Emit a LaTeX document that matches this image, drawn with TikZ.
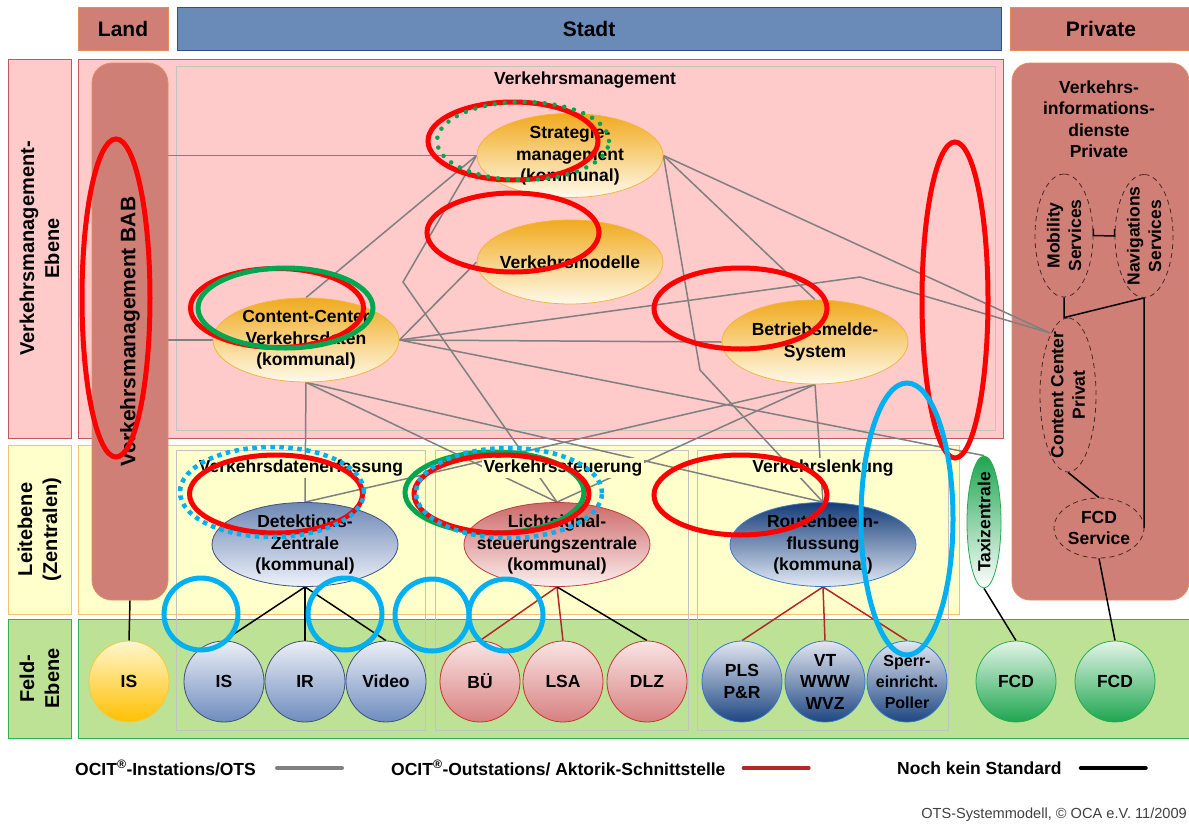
\documentclass[tikz,border=0pt]{standalone}
\usepackage{fontspec}
\setmainfont{Liberation Sans}
\usepackage{tikz}
\usetikzlibrary{shapes.geometric,arrows.meta}
\definecolor{salmon}{RGB}{208,127,118}
\definecolor{salmonedge}{RGB}{228,140,90}
\definecolor{stadtblue}{RGB}{106,138,184}
\definecolor{stadtedge}{RGB}{50,80,130}
\definecolor{pinkbg}{RGB}{255,202,202}
\definecolor{pinkedge}{RGB}{190,90,90}
\definecolor{yellowbg}{RGB}{255,255,204}
\definecolor{yellowedge}{RGB}{245,195,110}
\definecolor{greenbg}{RGB}{189,226,150}
\definecolor{greenedge}{RGB}{40,180,80}
\definecolor{boxgray}{RGB}{195,195,195}
\definecolor{otsgray}{RGB}{128,128,128}
\definecolor{aktred}{RGB}{178,40,40}
\definecolor{vmtop}{RGB}{240,170,30}
\definecolor{vmbottom}{RGB}{255,250,235}
\definecolor{vmedge}{RGB}{242,180,70}
\definecolor{dettop}{RGB}{110,135,180}
\definecolor{detbottom}{RGB}{238,242,250}
\definecolor{detedge}{RGB}{60,80,130}
\definecolor{lsztop}{RGB}{205,105,105}
\definecolor{lszbottom}{RGB}{252,238,238}
\definecolor{lszedge}{RGB}{190,60,60}
\definecolor{routetop}{RGB}{20,60,120}
\definecolor{routebottom}{RGB}{228,234,246}
\definecolor{routeedge}{RGB}{60,120,200}
\definecolor{isltop}{RGB}{255,246,205}
\definecolor{islbottom}{RGB}{255,192,0}
\definecolor{isledge}{RGB}{250,200,60}
\definecolor{fbluetop}{RGB}{236,239,246}
\definecolor{fbluebottom}{RGB}{110,140,190}
\definecolor{fblueedge}{RGB}{60,80,120}
\definecolor{fredtop}{RGB}{250,228,228}
\definecolor{fredbottom}{RGB}{215,128,128}
\definecolor{frededge}{RGB}{200,50,50}
\definecolor{fdarktop}{RGB}{226,231,241}
\definecolor{fdarkbottom}{RGB}{30,70,130}
\definecolor{fdarkedge}{RGB}{50,120,210}
\definecolor{fcdtop}{RGB}{226,245,230}
\definecolor{fcdgreen}{RGB}{30,165,80}
\definecolor{fcdedge}{RGB}{40,170,80}
\definecolor{privedge}{RGB}{70,40,40}
\definecolor{markred}{RGB}{255,0,0}
\definecolor{markgreen}{RGB}{0,166,80}
\definecolor{markblue}{RGB}{0,176,240}
\definecolor{footgray}{RGB}{64,64,64}
\newcommand{\txtnode}{\fontsize{17.5}{21.5}\selectfont\bfseries}
\newcommand{\txtsmall}{\fontsize{16}{21}\selectfont\bfseries}
\newcommand{\txthead}{\fontsize{21}{24}\selectfont\bfseries}
\newcommand{\txtrow}{\fontsize{20}{25}\selectfont\bfseries}
\newcommand{\txtfoot}{\fontsize{14.6}{17}\selectfont}
\tikzstyle{head} = [rectangle, minimum height=43pt, inner sep=0pt, font=\txthead, line width=0.8pt]
\tikzstyle{rowlabel} = [rectangle, rotate=90, minimum height=63pt, inner sep=0pt, align=center, font=\txtrow, line width=0.8pt]
\tikzstyle{innerbox} = [draw=boxgray, line width=0.8pt]
\tikzstyle{txt} = [align=center, font=\txtnode, inner sep=0pt]
\tikzstyle{vmell} = [ellipse, draw=vmedge, line width=0.8pt, top color=vmtop, bottom color=vmbottom, minimum width=186pt, minimum height=84pt]
\tikzstyle{leitell} = [ellipse, line width=0.8pt, minimum width=186pt, minimum height=84pt]
\tikzstyle{feld} = [ellipse, line width=0.8pt, minimum width=80pt, minimum height=81pt]
\tikzstyle{privell} = [ellipse, draw=privedge, line width=0.8pt, dash pattern=on 5pt off 4pt, rotate=90]
\tikzstyle{ots} = [draw=otsgray, line width=1.5pt]
\tikzstyle{aktorik} = [draw=aktred, line width=1.5pt]
\tikzstyle{nostd} = [draw=black, line width=1.5pt]
\tikzstyle{redmark} = [draw=markred, line width=5pt]
\tikzstyle{greenmark} = [draw=markgreen, line width=5pt]
\tikzstyle{bluemark} = [draw=markblue, line width=5pt]
\tikzstyle{greendots} = [draw=markgreen, line width=4.5pt, line cap=round, dash pattern=on 0pt off 10pt]
\tikzstyle{bluedots} = [draw=markblue, line width=4.5pt, dash pattern=on 4.5pt off 4.5pt]
\pgfdeclarelayer{back}
\pgfsetlayers{back,main}

\begin{document}
\begin{tikzpicture}[x=1pt, y=-1pt]
    \useasboundingbox (0,0) rectangle (1189,825);

    % Kopfzeile und Ebenen
    \node[head, fill=salmon, draw=salmonedge, minimum width=90pt] (land) at (123,28.5) {Land};
    \node[head, fill=stadtblue, draw=stadtedge, minimum width=824pt] (stadt) at (589,28.5) {Stadt};
    \node[head, fill=salmon, draw=salmonedge, minimum width=182pt] (private) at (1101,28.5) {Private};
    \node[rowlabel, fill=pinkbg, draw=pinkedge, minimum width=379pt] (vmebene) at (39.5,248.5) {Verkehrsmanagement-\\Ebene};
    \node[rowlabel, fill=yellowbg, draw=yellowedge, minimum width=169pt] (leitebene) at (39.5,529.5) {Leitebene\\(Zentralen)};
    \node[rowlabel, fill=greenbg, draw=greenedge, minimum width=119pt] (feldebene) at (39.5,678.5) {Feld-\\Ebene};

    \begin{pgfonlayer}{back}
        \draw[fill=pinkbg, draw=pinkedge, line width=0.8pt] (78,59) rectangle (1003,438);
        \draw[fill=yellowbg, draw=yellowedge, line width=0.8pt] (78,445) rectangle (959,614);
        \draw[fill=greenbg, draw=greenedge, line width=0.8pt] (78,619) rectangle (1195,738);
        \draw[innerbox] (176,66) rectangle (995,430);
        \draw[innerbox] (176,450) rectangle (425,730);
        \draw[innerbox] (435,450) rectangle (688,730);
        \draw[innerbox] (697,450) rectangle (948,730);
        \node[rectangle, rounded corners=18pt, fill=salmon, draw=salmonedge, line width=0.8pt,
            minimum width=177pt, minimum height=537pt] (privbox) at (1100.5,331.5) {};
    \end{pgfonlayer}

    % Land und Private
    \node[rectangle, rotate=90, rounded corners=20pt, fill=salmon, draw=salmonedge, line width=0.8pt,
        minimum width=537pt, minimum height=76pt, font=\txthead] (bab) at (130,331.5) {Verkehrsmanagement BAB};
    \node[txt] (privtitle) at (1099,119) {Verkehrs-\\informations-\\dienste\\Private};

    % Verkehrsmanagement
    \node[txt] (vmtitle) at (585,80) {Verkehrsmanagement};
    \node[vmell] (strat) at (570,155.5) {};
    \node[txt] (strat-t) at (strat) {Strategie-\\management\\(kommunal)};
    \node[vmell] (modell) at (570,262) {};
    \node[txt] (modell-t) at (modell) {Verkehrsmodelle};
    \node[vmell] (ccv) at (306,340) {};
    \node[txt] (ccv-t) at (ccv) {Content-Center\\Verkehrsdaten\\(kommunal)};
    \node[vmell] (bms) at (815,342) {};
    \node[txt] (bms-t) at (bms) {Betriebsmelde-\\System};

    % Leitebene
    \node[txt, fill=yellowbg, inner sep=2pt] (vde) at (301,468) {Verkehrsdatenerfassung};
    \node[txt, fill=yellowbg, inner sep=2pt] (vst) at (563,468) {Verkehrssteuerung};
    \node[txt, fill=yellowbg, inner sep=2pt] (vle) at (823,468) {Verkehrslenkung};
    \node[leitell, draw=detedge, top color=dettop, bottom color=detbottom] (det) at (305,544.5) {};
    \node[txt] (det-t) at (det) {Detektions-\\Zentrale\\(kommunal)};
    \node[leitell, draw=lszedge, top color=lsztop, bottom color=lszbottom] (lsz) at (557,544.5) {};
    \node[txt] (lsz-t) at (lsz) {Lichtsignal-\\steuerungszentrale\\(kommunal)};
    \node[leitell, draw=routeedge, top color=routetop, bottom color=routebottom] (route) at (823,544.5) {};
    \node[txt] (route-t) at (route) {Routenbeein-\\flussung\\(kommunal)};
    \node[ellipse, rotate=90, draw=fcdedge, line width=0.8pt, top color=fcdgreen, bottom color=white,
        minimum width=132pt, minimum height=34pt] (taxi) at (984,522) {};
    \node[txt, rotate=90] (taxi-t) at (taxi) {Taxizentrale};

    % Private Dienste
    \node[privell, minimum width=123pt, minimum height=58pt] (mob) at (1064,235.5) {};
    \node[txt, rotate=90] (mob-t) at (mob) {Mobility\\Services};
    \node[privell, minimum width=123pt, minimum height=58pt] (navi) at (1144,236) {};
    \node[txt, rotate=90] (navi-t) at (navi) {Navigations\\Services};
    \node[privell, minimum width=154pt, minimum height=56pt] (ccp) at (1068,395) {};
    \node[txt, rotate=90] (ccp-t) at (ccp) {Content Center\\Privat};
    \node[ellipse, draw=privedge, line width=0.8pt, dash pattern=on 5pt off 4pt,
        minimum width=90pt, minimum height=60pt] (fcdsrv) at (1099,528) {};
    \node[txt] (fcdsrv-t) at (fcdsrv) {FCD\\Service};

    % Feld-Ebene
    \node[feld, draw=isledge, top color=isltop, bottom color=islbottom] (isl) at (129,681.5) {};
    \node[txt] (isl-t) at (isl) {IS};
    \node[feld, draw=fblueedge, top color=fbluetop, bottom color=fbluebottom] (is) at (224,681.5) {};
    \node[txt] (is-t) at (is) {IS};
    \node[feld, draw=fblueedge, top color=fbluetop, bottom color=fbluebottom] (ir) at (305,681.5) {};
    \node[txt] (ir-t) at (ir) {IR};
    \node[feld, draw=fblueedge, top color=fbluetop, bottom color=fbluebottom] (video) at (386,681.5) {};
    \node[txt] (video-t) at (video) {Video};
    \node[feld, draw=frededge, top color=fredtop, bottom color=fredbottom] (bue) at (480,681.5) {};
    \node[txt] (bue-t) at (bue) {BÜ};
    \node[feld, draw=frededge, top color=fredtop, bottom color=fredbottom] (lsa) at (563,681.5) {};
    \node[txt] (lsa-t) at (lsa) {LSA};
    \node[feld, draw=frededge, top color=fredtop, bottom color=fredbottom] (dlz) at (647,681.5) {};
    \node[txt] (dlz-t) at (dlz) {DLZ};
    \node[feld, draw=fdarkedge, top color=fdarktop, bottom color=fdarkbottom] (pls) at (742,681.5) {};
    \node[txt] (pls-t) at (pls) {PLS\\P\&R};
    \node[feld, draw=fdarkedge, top color=fdarktop, bottom color=fdarkbottom] (vt) at (825,681.5) {};
    \node[txt] (vt-t) at (vt) {VT\\WWW\\WVZ};
    \node[feld, draw=fdarkedge, top color=fdarktop, bottom color=fdarkbottom] (sperr) at (907,681.5) {};
    \node[txt, font=\txtsmall] (sperr-t) at (sperr) {Sperr-\\einricht.\\Poller};
    \node[feld, draw=fcdedge, top color=fcdtop, bottom color=fcdgreen] (fcda) at (1016,681.5) {};
    \node[txt] (fcda-t) at (fcda) {FCD};
    \node[feld, draw=fcdedge, top color=fcdtop, bottom color=fcdgreen] (fcdb) at (1115,681.5) {};
    \node[txt] (fcdb-t) at (fcdb) {FCD};

    % Knickpunkte
    \coordinate (k1) at (403,282);
    \coordinate (k2) at (860,277);
    \coordinate (k3) at (700,370);
    \coordinate (ccpin) at (1050,333);

    \begin{pgfonlayer}{back}
        % OCIT-Instations
        \draw[ots] (bab.south |- strat.west) -- (strat.west);
        \draw[ots] (bab.south |- ccv.west) -- (ccv.west);
        \draw[ots] (strat.west) -- (ccv.north);
        \draw[ots] (strat.west) -- (k1) -- (lsz.north);
        \draw[ots] (strat.east) -- (bms.north);
        \draw[ots] (strat.east) -- (k3) -- (route.north);
        \draw[ots] (strat.east) -- (ccpin);
        \draw[ots] (modell.west) -- (ccv.east);
        \draw[ots] (ccv.east) -- (bms.west);
        \draw[ots] (ccv.east) -- (k2) -- (ccpin);
        \draw[ots] (ccv.east) -- (taxi.east);
        \draw[ots] (ccv.south) -- (det.north);
        \draw[ots] (ccv.south) -- (lsz.north);
        \draw[ots] (ccv.south) -- (route.north);
        \draw[ots] (bms.south) -- (det.north);
        \draw[ots] (bms.south) -- (lsz.north);
        \draw[ots] (bms.south) -- (route.north);
        % Outstations und ohne Standard
        \draw[nostd] (bab.west) -- (isl.north);
        \draw[nostd] (det.south) -- (is.north);
        \draw[nostd] (det.south) -- (ir.north);
        \draw[nostd] (det.south) -- (video.north);
        \draw[aktorik] (lsz.south) -- (bue.north);
        \draw[aktorik] (lsz.south) -- (lsa.north);
        \draw[nostd] (lsz.south) -- (dlz.north);
        \draw[aktorik] (route.south) -- (pls.north);
        \draw[aktorik] (route.south) -- (vt.north);
        \draw[aktorik] (route.south) -- (sperr.north);
        \draw[nostd] (taxi.west) -- (fcda.north);
        \draw[nostd] (fcdsrv.south) -- (fcdb.north);
        \draw[nostd] ([yshift=7pt]mob.south) -- (mob.south) -- (navi.north) -- ([yshift=7pt]navi.north);
        \draw[nostd] (mob.west) -- (mob.west |- ccp.east) -- (navi.west) -- (navi.west |- fcdsrv.east);
        \draw[nostd] (ccp.west) -- (fcdsrv.north);
    \end{pgfonlayer}

    % Markierungen
    \draw[redmark] (116,298) ellipse [x radius=34pt, y radius=159pt];
    \draw[redmark] (955,300) ellipse [x radius=33pt, y radius=158pt];
    \draw[redmark] (513,141) ellipse [x radius=85pt, y radius=39pt];
    \draw[greendots] (523,141) ellipse [x radius=86pt, y radius=39pt];
    \draw[redmark] (513,232.5) ellipse [x radius=86pt, y radius=39.5pt];
    \draw[redmark] (277,308) ellipse [x radius=86.5pt, y radius=39.5pt];
    \draw[greenmark] (285.5,308) ellipse [x radius=87.5pt, y radius=40pt];
    \draw[redmark] (740.5,308.5) ellipse [x radius=86.5pt, y radius=40.5pt];
    \draw[greenmark] (494.5,492.5) ellipse [x radius=89.5pt, y radius=40.5pt];
    \draw[redmark] (501.5,494) ellipse [x radius=87.5pt, y radius=39pt];
    \draw[bluedots] (509,493) ellipse [x radius=93pt, y radius=45pt];
    \draw[redmark] (276,494) ellipse [x radius=86.5pt, y radius=39pt];
    \draw[bluedots] (272,492) ellipse [x radius=92pt, y radius=45pt];
    \draw[redmark] (740.5,495) ellipse [x radius=86.5pt, y radius=40pt];
    \draw[bluemark] (907,519) ellipse [x radius=46pt, y radius=136pt];
    \draw[bluemark] (201,614) ellipse [x radius=37pt, y radius=36pt];
    \draw[bluemark] (345,614) ellipse [x radius=37pt, y radius=36pt];
    \draw[bluemark] (432,615) ellipse [x radius=37pt, y radius=36pt];
    \draw[bluemark] (506,615) ellipse [x radius=37pt, y radius=36pt];

    % Legende
    \node[txt, anchor=west] (legots) at (75,768) {OCIT\textsuperscript{®}-Instations/OTS};
    \draw[ots, line width=4pt, line cap=round] ([xshift=21pt]legots.east) -- ++(65,0);
    \node[txt, anchor=west] (legakt) at (391,768) {OCIT\textsuperscript{®}-Outstations/ Aktorik-Schnittstelle};
    \draw[aktorik, line width=4pt, line cap=round] ([xshift=18pt]legakt.east) -- ++(65,0);
    \node[txt, anchor=west] (legnostd) at (897,768) {Noch kein Standard};
    \draw[nostd, line width=4pt, line cap=round] ([xshift=19pt]legnostd.east) -- ++(65,0);
    \node[anchor=east, inner sep=0pt, font=\txtfoot, text=footgray] (quelle) at (1187,815) {OTS-Systemmodell, © OCA e.V. 11/2009};
\end{tikzpicture}
\end{document}
